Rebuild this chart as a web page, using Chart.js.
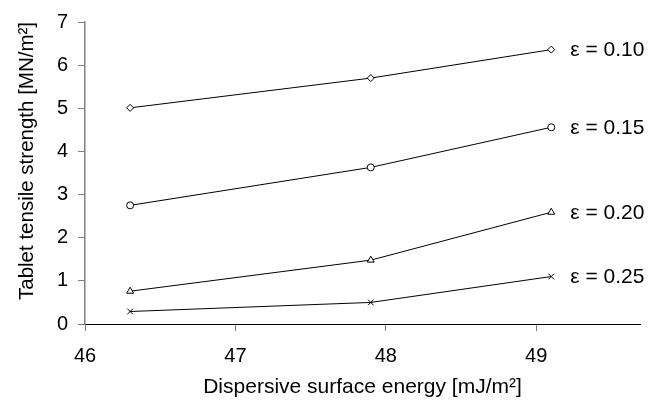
<!DOCTYPE html>
<html>
<head>
<meta charset="utf-8">
<script src="https://cdn.jsdelivr.net/npm/chart.js@4/dist/chart.umd.min.js"></script>
<style>
  html, body { margin: 0; padding: 0; background: #fff; }
  #wrap { width: 651px; height: 400px; }
</style>
</head>
<body>
<div id="wrap"><canvas id="chart" width="651" height="400"></canvas></div>
<script>
// x positions (dispersive surface energy, mJ/m2)
const energy = [46.3, 47.9, 49.1];

// tablet tensile strength (MN/m2) per porosity
const eps010 = [5.01, 5.70, 6.36];
const eps015 = [2.75, 3.63, 4.56];
const eps020 = [0.76, 1.48, 2.59];
const eps025 = [0.29, 0.50, 1.10];

const seriesLabels = ['\u03b5 = 0.10', '\u03b5 = 0.15', '\u03b5 = 0.20', '\u03b5 = 0.25'];
const xTicks = [46, 47, 48, 49];
const yTicks = [0, 1, 2, 3, 4, 5, 6, 7];

const FONT = 'Liberation Sans, Arial, sans-serif';

const toPoints = ys => energy.map((x, i) => ({ x: x, y: ys[i] }));

function makeSet(label, ys, style, r) {
    return {
        label: label,
        data: toPoints(ys),
        borderColor: '#000',
        borderWidth: 1,
        pointStyle: style,
        pointRadius: r,
        pointBackgroundColor: '#fff',
        pointBorderColor: '#000',
        pointBorderWidth: 1,
        showLine: true,
        tension: 0,
    };
}

// Write the epsilon label to the right of each line's last point
const endLabels = {
    id: 'endLabels',
    afterDatasetsDraw(chart) {
        const ctx = chart.ctx;
        ctx.save();
        ctx.font = '21px ' + FONT;
        ctx.fillStyle = '#000';
        ctx.textBaseline = 'middle';
        ctx.textAlign = 'left';
        chart.data.datasets.forEach((ds, i) => {
            const meta = chart.getDatasetMeta(i);
            const last = meta.data[meta.data.length - 1];
            ctx.fillText(ds.label, last.x + 19, last.y + 1);
        });
        ctx.restore();
    }
};

new Chart(document.getElementById('chart').getContext('2d'), {
    type: 'scatter',
    data: {
        datasets: [
            makeSet(seriesLabels[0], eps010, 'rectRot', 3.5),
            makeSet(seriesLabels[1], eps015, 'circle', 3.5),
            makeSet(seriesLabels[2], eps020, 'triangle', 4),
            makeSet(seriesLabels[3], eps025, 'crossRot', 4),
        ],
    },
    options: {
        responsive: false,
        animation: false,
        layout: { padding: { top: 20, right: 11, left: 0, bottom: 0 } },
        plugins: {
            legend: { display: false },
            tooltip: { enabled: false },
        },
        scales: {
            x: {
                type: 'linear',
                min: 46,
                max: 49.69,
                afterBuildTicks: scale => { scale.ticks = xTicks.map(v => ({ value: v })); },
                afterFit: scale => { scale.height = 76; },
                border: { display: true, color: '#000', width: 1 },
                grid: { drawOnChartArea: false, drawTicks: true, tickLength: 7, color: '#808080' },
                ticks: { color: '#000', font: { family: FONT, size: 20 }, padding: 13, maxRotation: 0 },
                title: {
                    display: true,
                    text: 'Dispersive surface energy [mJ/m\u00b2]',
                    color: '#000',
                    font: { family: FONT, size: 21 },
                    padding: { top: 0, bottom: 0 },
                },
            },
            y: {
                min: 0,
                max: 7,
                afterBuildTicks: scale => { scale.ticks = yTicks.map(v => ({ value: v })); },
                afterFit: scale => { scale.width = 85; },
                border: { display: true, color: '#808080', width: 1.5 },
                grid: { drawOnChartArea: false, drawTicks: true, tickLength: 7, color: '#808080' },
                ticks: { color: '#000', font: { family: FONT, size: 20 }, padding: 10 },
                title: {
                    display: true,
                    text: 'Tablet tensile strength [MN/m\u00b2]',
                    align: 'end',
                    color: '#000',
                    font: { family: FONT, size: 20.5 },
                    padding: { top: 15, bottom: 0 },
                },
            },
        },
    },
    plugins: [endLabels],
});
</script>
</body>
</html>
